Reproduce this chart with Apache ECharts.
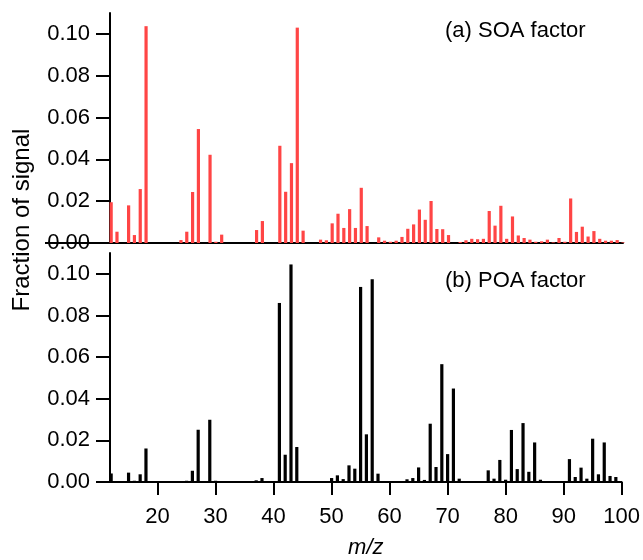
<!DOCTYPE html>
<html>
<head>
<meta charset="utf-8">
<script src="https://cdn.jsdelivr.net/npm/echarts@6/dist/echarts.min.js"></script>
<style>
html,body{margin:0;padding:0;background:#fff;}
#main{width:643px;height:560px;}
</style>
</head>
<body>
<div id="main"></div>
<script>
// SOA factor (a)
var soaMz  = [12,13,15,16,17,18,24,25,26,27,29,30,31,37,38,41,42,43,44,45,48,49,50,51,52,53,54,55,56,58,59,60,61,62,63,64,65,66,67,68,69,70,72,73,74,75,76,77,78,79,80,81,82,83,84,85,86,87,88,89,90,91,92,93,94,95,96,97,98,99,100];
var soaVal = [0.0195,0.0054,0.0180,0.0038,0.0258,0.1037,0.0014,0.0054,0.0244,0.0545,0.0422,0.0006,0.0040,0.0062,0.0105,0.0465,0.0245,0.0382,0.1030,0.0059,0.0016,0.0013,0.0094,0.0140,0.0072,0.0162,0.0072,0.0264,0.0081,0.0027,0.0011,0.0006,0.0011,0.0029,0.0068,0.0089,0.0160,0.0111,0.0201,0.0067,0.0066,0.0038,0.0005,0.0013,0.0020,0.0018,0.0020,0.0153,0.0083,0.0178,0.0020,0.0127,0.0036,0.0024,0.0016,0.0006,0.0008,0.0016,0.0003,0.0024,0.0006,0.0213,0.0053,0.0078,0.0031,0.0057,0.0020,0.0011,0.0011,0.0014,0.0003];
// POA factor (b)
var poaMz  = [12,15,16,17,18,25,26,27,29,30,37,38,41,42,43,44,50,51,52,53,54,55,56,57,58,63,64,65,66,67,68,69,70,71,72,77,78,79,80,81,82,83,84,85,86,91,92,93,94,95,96,97,98,99];
var poaVal = [0.0041,0.0045,0.0006,0.0037,0.0161,0.0006,0.0054,0.0251,0.0299,0.0006,0.0008,0.0019,0.0860,0.0131,0.1045,0.0168,0.0019,0.0032,0.0014,0.0080,0.0064,0.0937,0.0229,0.0974,0.0040,0.0013,0.0019,0.0070,0.0010,0.0280,0.0072,0.0566,0.0134,0.0449,0.0016,0.0056,0.0016,0.0106,0.0011,0.0250,0.0062,0.0283,0.0049,0.0190,0.0011,0.0110,0.0024,0.0069,0.0016,0.0208,0.0037,0.0190,0.0029,0.0024];
var xTicks = [20,30,40,50,60,70,80,90,100];
var yTicks = [0,0.02,0.04,0.06,0.08,0.10];
var panelLabels = ['(a) SOA factor','(b) POA factor'];
var xTitle = 'm/z';
var yTitle = 'Fraction of signal';

function pairs(xs, ys){ return xs.map(function(x,i){ return [x, ys[i]]; }); }

var FONT = '"Liberation Sans", Arial, sans-serif';
var axisLine = {show:true, onZero:false, lineStyle:{color:'#000', width:2}};

function xAxisDef(idx, showLabels){
  return {
    type:'value', gridIndex:idx, min:11.8, max:100,
    axisLine: axisLine,
    axisTick:{show:showLabels, inside:false, length:13, lineStyle:{color:'#000', width:2}, customValues:xTicks},
    axisLabel:{show:showLabels, customValues:xTicks, fontSize:22, color:'#000', fontFamily:FONT, margin:24},
    splitLine:{show:false},
    name: showLabels ? xTitle : '',
    nameLocation:'middle', nameGap:55,
    nameTextStyle:{fontSize:22, fontStyle:'italic', color:'#000', fontFamily:FONT}
  };
}
function yAxisDef(idx){
  return {
    type:'value', gridIndex:idx, min:0, max:0.11,
    axisLine: axisLine,
    axisTick:{show:true, length:14, lineStyle:{color:'#000', width:2}, customValues:yTicks},
    axisLabel:{customValues:yTicks, fontSize:22, color:'#000', fontFamily:FONT, margin:20,
      formatter:function(v){ return v.toFixed(2); }},
    splitLine:{show:false}
  };
}

var chart = echarts.init(document.getElementById('main'), null, {renderer:'canvas'});
chart.setOption({
  backgroundColor:'#fff',
  animation:false,
  grid:[
    {left:110, right:20, top:13, height:230},
    {left:110, right:20, top:253, height:230}
  ],
  xAxis:[xAxisDef(0,false), xAxisDef(1,true)],
  yAxis:[yAxisDef(0), yAxisDef(1)],
  series:[
    {type:'bar', xAxisIndex:0, yAxisIndex:0, data:pairs(soaMz, soaVal), barWidth:3.2,
     itemStyle:{color:'#ff4545'}},
    {type:'bar', xAxisIndex:1, yAxisIndex:1, data:pairs(poaMz, poaVal), barWidth:3.2,
     itemStyle:{color:'#000'}}
  ],
  graphic:[
    {type:'text', x:445, y:31, style:{text:panelLabels[0], fontSize:22, fontFamily:FONT, fill:'#000', verticalAlign:'middle'}},
    {type:'text', x:445, y:281, style:{text:panelLabels[1], fontSize:22, fontFamily:FONT, fill:'#000', verticalAlign:'middle'}},
    {type:'text', x:22, y:220, rotation:Math.PI/2,
     style:{text:yTitle, fontSize:24, fontFamily:FONT, fill:'#000', align:'center', verticalAlign:'middle'}}
  ]
});
// extension of panel (a) baseline to the left, as in the reference
var p0 = chart.convertToPixel({gridIndex:0}, [11.8, 0]);
chart.setOption({graphic:[{}, {}, {}, {type:'line', shape:{x1:45, y1:p0[1], x2:p0[0], y2:p0[1]}, style:{stroke:'#000', lineWidth:2}}]});
</script>
</body>
</html>
